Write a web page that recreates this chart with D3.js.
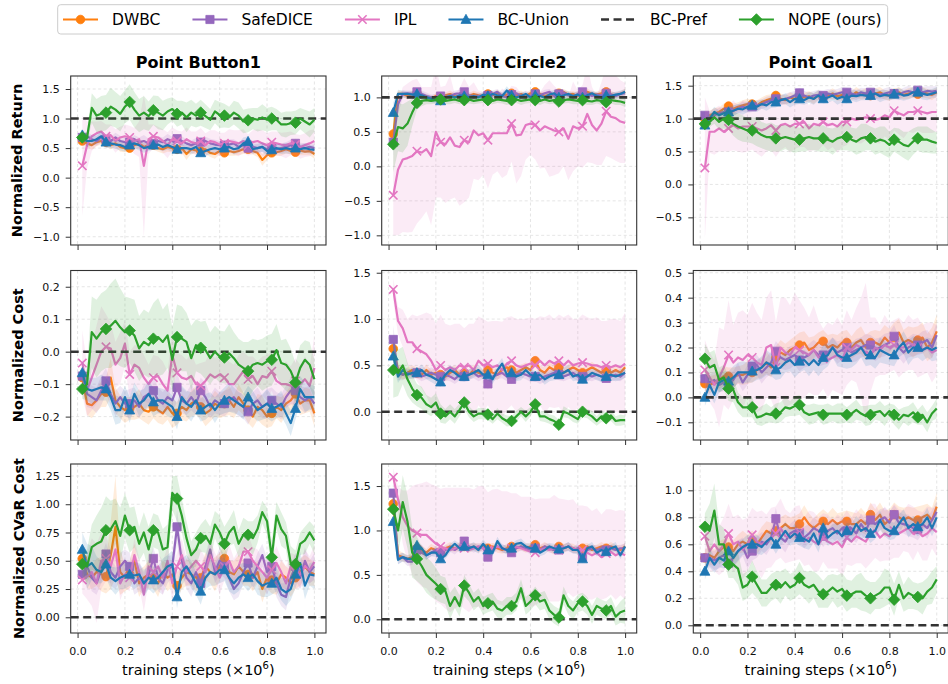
<!DOCTYPE html>
<html>
<head>
<meta charset="utf-8">
<title>NOPE training curves</title>
<script src="https://d3js.org/d3.v7.min.js"></script>
<style>
  body { margin: 0; background: #fff; }
  svg { display: block; font-family: "DejaVu Sans", sans-serif; }
</style>
</head>
<body>
<svg id="chart" width="948" height="684"></svg>
<script>

// ---- categories / labels ----
var steps = [0.02,0.04,0.06,0.08,0.10,0.12,0.14,0.16,0.18,0.20,
             0.22,0.24,0.26,0.28,0.30,0.32,0.34,0.36,0.38,0.40,
             0.42,0.44,0.46,0.48,0.50,0.52,0.54,0.56,0.58,0.60,
             0.62,0.64,0.66,0.68,0.70,0.72,0.74,0.76,0.78,0.80,
             0.82,0.84,0.86,0.88,0.90,0.92,0.94,0.96,0.98,1.00];
var methods = ["DWBC", "SafeDICE", "IPL", "BC-Union", "BC-Pref", "NOPE (ours)"];
var methodColors = ["#ff7f0e", "#9467bd", "#e377c2", "#1f77b4", "#333333", "#2ca02c"];
var methodMarkers = ["circle", "square", "x", "triangle", null, "diamond"];
var envTitles = ["Point Button1", "Point Circle2", "Point Goal1"];
var metricLabels = ["Normalized Return", "Normalized Cost", "Normalized CVaR Cost"];
var prefLevels = [1, 0, 0];   // BC-Pref reference per metric row
var xTickValues = [0, 0.2, 0.4, 0.6, 0.8, 1.0];
var yLimits = [[-1.14, 1.72], [-1.14, 1.31], [-0.92, 1.647],
               [-0.272, 0.25], [-0.305, 1.524], [-0.171, 0.509],
               [-0.139, 1.356], [-0.154, 1.748], [-0.057, 1.195]];
var yTickValues = [[-1, -0.5, 0, 0.5, 1, 1.5], [-1, -0.5, 0, 0.5, 1], [-0.5, 0, 0.5, 1, 1.5],
                   [-0.2, -0.1, 0, 0.1, 0.2], [0, 0.5, 1, 1.5], [-0.1, 0, 0.1, 0.2, 0.3, 0.4, 0.5],
                   [0, 0.25, 0.5, 0.75, 1, 1.25], [0, 0.5, 1, 1.5], [0, 0.2, 0.4, 0.6, 0.8, 1]];
var yTickFormats = [".1f", ".1f", ".1f", ".1f", ".1f", ".1f", ".2f", ".1f", ".1f"];

// ---- Point Button1 : return ----
var btnRet_dwbc = [0.62,0.58,0.55,0.60,0.62,0.60,0.55,0.58,0.52,0.50, 0.50,0.55,0.58,0.52,0.55,0.55,0.50,0.48,0.52,0.50, 0.48,0.50,0.40,0.48,0.46,0.45,0.48,0.42,0.40,0.45, 0.42,0.45,0.43,0.45,0.48,0.48,0.45,0.42,0.30,0.38, 0.42,0.43,0.45,0.48,0.45,0.43,0.46,0.44,0.45,0.40];
var btnRet_safe = [0.68,0.70,0.65,0.62,0.68,0.65,0.62,0.68,0.62,0.60, 0.60,0.65,0.60,0.62,0.58,0.58,0.62,0.60,0.65,0.62, 0.66,0.62,0.58,0.55,0.58,0.60,0.62,0.58,0.56,0.55, 0.55,0.56,0.58,0.52,0.55,0.50,0.52,0.50,0.52,0.48, 0.50,0.48,0.50,0.52,0.55,0.58,0.52,0.50,0.52,0.50];
var btnRet_ipl = [0.20,0.55,0.70,0.75,0.78,0.70,0.72,0.62,0.68,0.70, 0.68,0.62,0.65,0.20,0.65,0.70,0.68,0.62,0.55,0.65, 0.62,0.58,0.65,0.60,0.58,0.62,0.55,0.62,0.60,0.56, 0.58,0.62,0.60,0.58,0.62,0.55,0.60,0.62,0.58,0.55, 0.60,0.58,0.56,0.55,0.58,0.56,0.52,0.55,0.58,0.62];
var btnRet_bcu = [0.72,0.62,0.62,0.65,0.70,0.60,0.58,0.56,0.55,0.52, 0.55,0.58,0.55,0.50,0.52,0.55,0.56,0.52,0.55,0.52, 0.48,0.50,0.50,0.48,0.52,0.42,0.45,0.48,0.50,0.48, 0.50,0.52,0.48,0.50,0.58,0.61,0.48,0.50,0.52,0.45, 0.47,0.50,0.48,0.50,0.48,0.50,0.48,0.50,0.48,0.47];
var btnRet_nope = [0.68,0.68,1.18,1.05,1.08,1.10,1.20,1.15,1.08,1.20, 1.28,1.15,1.05,1.10,1.04,1.14,1.10,1.05,1.12,1.16, 1.08,1.10,1.02,1.10,1.05,1.10,1.04,0.98,1.12,1.06, 1.05,1.02,1.10,1.05,0.95,0.97,1.00,0.98,1.02,0.98, 1.00,0.98,0.90,0.90,0.92,0.93,1.00,0.95,0.90,0.98];
var btnRet_dwbc_sd = [0.05,0.06,0.08,0.07,0.06,0.08,0.07,0.06,0.08,0.07, 0.06,0.07,0.08,0.06,0.07,0.08,0.06,0.07,0.08,0.07, 0.06,0.08,0.10,0.07,0.06,0.07,0.08,0.07,0.08,0.06, 0.07,0.08,0.06,0.07,0.08,0.07,0.06,0.07,0.10,0.08, 0.07,0.06,0.08,0.07,0.06,0.07,0.08,0.06,0.07,0.08];
var btnRet_safe_sd = [0.06,0.08,0.07,0.08,0.10,0.08,0.07,0.08,0.09,0.08, 0.08,0.07,0.08,0.10,0.08,0.07,0.08,0.08,0.09,0.07, 0.08,0.08,0.07,0.08,0.09,0.08,0.07,0.08,0.08,0.07, 0.08,0.09,0.07,0.08,0.08,0.07,0.08,0.09,0.08,0.07, 0.08,0.07,0.08,0.08,0.09,0.08,0.07,0.08,0.08,0.07];
var btnRet_ipl_sd = [0.85,0.40,0.25,0.20,0.18,0.20,0.18,0.20,0.18,0.20, 0.20,0.22,0.30,1.20,0.25,0.20,0.18,0.20,0.22,0.20, 0.18,0.20,0.20,0.18,0.20,0.22,0.20,0.18,0.20,0.20, 0.18,0.20,0.20,0.22,0.20,0.18,0.20,0.20,0.22,0.20, 0.18,0.20,0.20,0.22,0.20,0.18,0.20,0.20,0.22,0.20];
var btnRet_bcu_sd = [0.08,0.10,0.09,0.08,0.08,0.10,0.08,0.07,0.09,0.08, 0.07,0.08,0.09,0.08,0.07,0.08,0.09,0.07,0.08,0.08, 0.09,0.07,0.08,0.09,0.08,0.07,0.08,0.09,0.08,0.07, 0.08,0.07,0.09,0.08,0.10,0.09,0.08,0.07,0.08,0.09, 0.08,0.07,0.08,0.09,0.08,0.07,0.08,0.08,0.07,0.08];
var btnRet_nope_sd = [0.05,0.10,0.25,0.28,0.30,0.30,0.32,0.30,0.30,0.28, 0.30,0.30,0.28,0.28,0.25,0.25,0.28,0.25,0.22,0.20, 0.22,0.20,0.25,0.22,0.20,0.22,0.20,0.18,0.20,0.22, 0.20,0.18,0.20,0.22,0.20,0.20,0.18,0.20,0.22,0.20, 0.20,0.18,0.20,0.22,0.20,0.20,0.18,0.20,0.22,0.20];

// ---- Point Circle2 : return ----
var cirRet_dwbc = [0.47,1.05,1.05,1.02,1.05,1.06,1.02,1.00,0.98,1.02, 1.00,1.03,1.05,1.02,1.00,1.03,1.02,1.05,1.03,1.02, 1.05,1.03,1.06,1.02,1.04,1.06,1.03,1.05,1.02,1.06, 1.08,1.05,1.02,1.04,1.03,1.06,1.08,1.04,1.05,1.02, 1.06,1.08,1.05,1.04,1.06,1.08,1.04,1.03,1.05,1.08];
var cirRet_safe = [0.35,0.90,1.05,1.06,1.05,1.08,1.05,1.02,1.00,1.00, 1.02,1.00,1.02,1.05,1.06,1.08,1.03,1.00,1.02,1.00, 1.03,1.05,1.08,1.02,1.00,1.04,1.06,1.02,1.00,1.02, 1.05,1.03,1.06,1.08,1.02,1.05,1.07,1.03,1.00,1.05, 1.08,1.05,1.02,1.04,1.03,1.06,1.04,1.02,1.05,1.06];
var cirRet_ipl = [-0.42,-0.05,0.10,0.12,0.15,0.22,0.20,0.25,0.15,0.50, 0.35,0.32,0.42,0.30,0.28,0.38,0.35,0.52,0.45,0.48, 0.38,0.48,0.48,0.48,0.48,0.62,0.45,0.46,0.60,0.62, 0.60,0.52,0.58,0.55,0.52,0.50,0.55,0.40,0.58,0.55, 0.58,0.76,0.60,0.52,0.62,0.80,0.72,0.70,0.65,0.63];
var cirRet_bcu = [0.78,1.05,1.05,1.05,1.04,1.05,1.03,1.00,0.98,0.96, 0.95,1.00,1.02,1.00,1.03,1.02,1.00,1.02,1.00,1.04, 1.02,1.05,1.03,1.02,1.10,1.03,1.00,1.02,1.05,1.00, 1.03,1.02,1.00,1.04,1.06,1.00,1.03,1.05,1.02,1.04, 1.00,1.03,1.06,1.02,1.00,1.03,1.02,1.04,1.05,1.08];
var cirRet_nope = [0.32,0.57,0.55,0.62,0.78,0.92,0.95,0.96,0.95,0.96, 0.97,0.95,0.96,0.97,0.95,0.96,0.97,0.95,0.96,0.97, 0.96,0.95,0.97,0.96,0.95,0.96,0.97,0.95,0.96,0.97, 0.96,0.95,0.97,0.95,0.96,0.94,0.96,0.97,0.96,0.95, 0.96,0.95,0.94,0.96,0.95,0.93,0.96,0.95,0.94,0.92];
var cirRet_dwbc_sd = [0.15,0.05,0.04,0.05,0.04,0.05,0.04,0.05,0.04,0.04, 0.05,0.04,0.05,0.04,0.04,0.05,0.04,0.05,0.04,0.04, 0.05,0.04,0.05,0.04,0.05,0.04,0.04,0.05,0.04,0.05, 0.05,0.04,0.05,0.04,0.04,0.05,0.04,0.05,0.04,0.05, 0.04,0.05,0.04,0.04,0.05,0.04,0.05,0.04,0.04,0.05];
var cirRet_safe_sd = [0.20,0.15,0.05,0.04,0.05,0.04,0.05,0.05,0.04,0.05, 0.04,0.05,0.04,0.05,0.05,0.04,0.05,0.04,0.05,0.04, 0.05,0.05,0.04,0.05,0.04,0.05,0.04,0.05,0.05,0.04, 0.05,0.04,0.05,0.04,0.05,0.05,0.04,0.05,0.04,0.05, 0.05,0.04,0.05,0.04,0.05,0.04,0.05,0.05,0.04,0.05];
var cirRet_ipl_sd = [0.58,0.95,1.05,1.08,1.10,1.05,0.95,0.90,1.00,0.95, 0.80,0.85,0.90,0.75,0.85,0.90,0.80,0.70,0.65,0.60, 0.70,0.60,0.55,0.65,0.60,0.55,0.70,0.60,0.50,0.45, 0.50,0.55,0.60,0.70,0.65,0.60,0.55,0.60,0.65,0.55, 0.60,0.70,0.55,0.50,0.60,0.65,0.60,0.62,0.60,0.58];
var cirRet_bcu_sd = [0.15,0.06,0.05,0.04,0.05,0.04,0.05,0.04,0.05,0.05, 0.04,0.05,0.04,0.05,0.04,0.05,0.05,0.04,0.05,0.04, 0.05,0.04,0.05,0.05,0.06,0.05,0.04,0.05,0.04,0.05, 0.04,0.05,0.05,0.04,0.05,0.04,0.05,0.04,0.05,0.05, 0.04,0.05,0.04,0.05,0.04,0.05,0.05,0.04,0.05,0.04];
var cirRet_nope_sd = [0.40,0.35,0.35,0.32,0.20,0.10,0.08,0.06,0.05,0.05, 0.05,0.05,0.06,0.05,0.05,0.05,0.06,0.05,0.05,0.05, 0.06,0.05,0.05,0.05,0.06,0.05,0.05,0.06,0.05,0.05, 0.05,0.06,0.05,0.05,0.05,0.06,0.05,0.05,0.06,0.05, 0.05,0.06,0.05,0.05,0.06,0.05,0.05,0.06,0.05,0.06];

// ---- Point Goal1 : return ----
var goalRet_dwbc = [1.00,1.05,1.08,1.10,1.15,1.19,1.15,1.18,1.20,1.22, 1.22,1.20,1.25,1.28,1.30,1.35,1.30,1.28,1.32,1.30, 1.35,1.32,1.34,1.30,1.36,1.33,1.35,1.38,1.34,1.36, 1.38,1.35,1.40,1.36,1.38,1.35,1.38,1.40,1.36,1.35, 1.38,1.40,1.36,1.38,1.40,1.37,1.40,1.38,1.36,1.40];
var goalRet_safe = [1.05,1.00,1.05,1.08,1.10,1.10,1.12,1.15,1.18,1.16, 1.18,1.20,1.22,1.25,1.28,1.30,1.28,1.30,1.32,1.35, 1.39,1.35,1.32,1.35,1.36,1.35,1.38,1.36,1.38,1.40, 1.40,1.38,1.36,1.40,1.38,1.40,1.38,1.36,1.38,1.40, 1.38,1.36,1.40,1.42,1.40,1.43,1.40,1.42,1.41,1.42];
var goalRet_ipl = [0.25,0.80,0.80,0.85,0.80,0.85,0.90,0.85,0.88,0.88, 0.88,0.85,0.82,0.85,0.90,0.82,0.90,0.92,0.88,0.92, 0.92,0.95,0.85,0.92,0.90,0.95,0.90,0.92,0.88,0.95, 0.95,1.00,0.98,1.00,1.02,1.00,0.98,1.00,1.05,1.02, 1.12,1.08,1.05,1.10,1.10,1.12,1.10,1.08,1.10,1.10];
var goalRet_bcu = [0.90,1.00,1.10,1.05,1.08,1.10,1.12,1.15,1.14,1.18, 1.20,1.18,1.22,1.20,1.25,1.25,1.28,1.30,1.25,1.30, 1.30,1.28,1.32,1.30,1.35,1.30,1.32,1.35,1.30,1.33, 1.30,1.35,1.34,1.36,1.35,1.35,1.38,1.34,1.36,1.35, 1.37,1.38,1.35,1.36,1.40,1.40,1.38,1.36,1.38,1.40];
var goalRet_nope = [0.92,0.95,1.02,0.95,1.00,0.98,0.92,0.88,0.85,0.82, 0.82,0.80,0.75,0.72,0.72,0.70,0.70,0.72,0.70,0.68, 0.68,0.70,0.72,0.70,0.70,0.70,0.68,0.65,0.70,0.72, 0.72,0.68,0.65,0.70,0.72,0.70,0.65,0.68,0.66,0.60, 0.68,0.65,0.60,0.58,0.65,0.70,0.68,0.68,0.65,0.63];
var goalRet_dwbc_sd = [0.06,0.07,0.08,0.07,0.08,0.07,0.08,0.07,0.08,0.08, 0.07,0.08,0.07,0.08,0.07,0.08,0.08,0.07,0.08,0.07, 0.08,0.07,0.08,0.08,0.07,0.08,0.07,0.08,0.07,0.08, 0.08,0.07,0.08,0.07,0.08,0.07,0.08,0.08,0.07,0.08, 0.07,0.08,0.07,0.08,0.08,0.07,0.08,0.07,0.08,0.07];
var goalRet_safe_sd = [0.07,0.08,0.07,0.08,0.08,0.07,0.08,0.07,0.08,0.07, 0.08,0.08,0.07,0.08,0.07,0.08,0.07,0.08,0.08,0.07, 0.08,0.07,0.08,0.07,0.08,0.08,0.07,0.08,0.07,0.08, 0.07,0.08,0.08,0.07,0.08,0.07,0.08,0.07,0.08,0.08, 0.07,0.08,0.07,0.08,0.07,0.08,0.08,0.07,0.08,0.07];
var goalRet_ipl_sd = [1.07,0.32,0.35,0.35,0.30,0.35,0.38,0.35,0.40,0.38, 0.35,0.38,0.40,0.35,0.38,0.40,0.38,0.35,0.40,0.38, 0.35,0.38,0.35,0.40,0.38,0.35,0.38,0.35,0.40,0.38, 0.35,0.32,0.35,0.38,0.35,0.32,0.35,0.38,0.32,0.35, 0.30,0.32,0.35,0.30,0.32,0.30,0.32,0.30,0.32,0.30];
var goalRet_bcu_sd = [0.08,0.09,0.08,0.07,0.08,0.09,0.08,0.07,0.08,0.08, 0.09,0.08,0.07,0.08,0.09,0.08,0.07,0.08,0.08,0.09, 0.08,0.07,0.08,0.09,0.08,0.07,0.08,0.08,0.09,0.08, 0.07,0.08,0.09,0.08,0.07,0.08,0.08,0.09,0.08,0.07, 0.08,0.09,0.08,0.07,0.08,0.08,0.09,0.08,0.07,0.08];
var goalRet_nope_sd = [0.05,0.08,0.10,0.12,0.15,0.15,0.18,0.20,0.20,0.18, 0.20,0.22,0.20,0.20,0.22,0.20,0.20,0.18,0.20,0.20, 0.18,0.20,0.20,0.18,0.20,0.20,0.18,0.20,0.18,0.20, 0.20,0.18,0.20,0.22,0.20,0.18,0.20,0.20,0.22,0.20, 0.18,0.20,0.20,0.22,0.20,0.18,0.20,0.20,0.18,0.16];

// ---- Point Button1 : cost ----
var btnCost_dwbc = [-0.080,-0.160,-0.165,-0.150,-0.130,-0.125,-0.080,-0.150,-0.170,-0.180, -0.175,-0.170,-0.160,-0.180,-0.185,-0.170,-0.180,-0.190,-0.170,-0.190, -0.190,-0.170,-0.180,-0.160,-0.150,-0.170,-0.190,-0.180,-0.160,-0.170, -0.160,-0.150,-0.170,-0.140,-0.160,-0.180,-0.200,-0.170,-0.180,-0.200, -0.190,-0.170,-0.180,-0.160,-0.150,-0.130,-0.160,-0.150,-0.150,-0.190];
var btnCost_safe = [-0.075,-0.130,-0.140,-0.150,-0.120,-0.090,-0.130,-0.160,-0.140,-0.160, -0.160,-0.150,-0.170,-0.140,-0.130,-0.120,-0.150,-0.160,-0.140,-0.150, -0.110,-0.150,-0.160,-0.140,-0.160,-0.120,-0.140,-0.170,-0.150,-0.160, -0.160,-0.150,-0.140,-0.160,-0.170,-0.185,-0.160,-0.150,-0.170,-0.160, -0.150,-0.160,-0.170,-0.140,-0.120,-0.120,-0.140,-0.150,-0.140,-0.160];
var btnCost_ipl = [-0.035,-0.120,-0.080,-0.040,0.000,0.015,0.010,-0.040,-0.020,0.025, -0.070,-0.040,-0.050,-0.080,-0.100,-0.080,-0.075,-0.100,-0.120,-0.010, -0.065,-0.080,-0.085,-0.075,-0.100,-0.105,-0.090,-0.070,-0.080,-0.070, -0.080,-0.100,-0.100,-0.080,-0.060,-0.085,-0.075,-0.100,-0.075,-0.080, -0.060,-0.090,-0.100,-0.100,-0.105,-0.090,-0.100,-0.085,-0.105,-0.050];
var btnCost_bcu = [-0.065,-0.115,-0.120,-0.115,-0.110,-0.115,-0.140,-0.180,-0.180,-0.140, -0.180,-0.130,-0.160,-0.150,-0.130,-0.155,-0.150,-0.150,-0.160,-0.170, -0.200,-0.140,-0.160,-0.170,-0.150,-0.180,-0.170,-0.160,-0.180,-0.160, -0.150,-0.140,-0.150,-0.160,-0.170,-0.140,-0.160,-0.180,-0.170,-0.160, -0.175,-0.170,-0.160,-0.190,-0.220,-0.175,-0.115,-0.140,-0.140,-0.140];
var btnCost_nope = [-0.115,-0.100,0.060,0.040,0.060,0.070,0.080,0.095,0.075,0.060, 0.065,0.050,0.010,0.030,0.020,0.040,0.045,0.030,0.050,-0.025, 0.045,0.040,0.030,-0.020,0.020,0.012,0.005,-0.020,0.000,-0.015, -0.018,-0.005,-0.020,-0.040,-0.050,-0.060,-0.040,-0.035,-0.040,-0.030, -0.025,0.005,-0.035,-0.040,-0.060,-0.095,-0.050,-0.025,-0.040,-0.085];
var btnCost_dwbc_sd = [0.030,0.035,0.040,0.035,0.040,0.045,0.060,0.040,0.035,0.040, 0.035,0.040,0.045,0.035,0.040,0.035,0.040,0.035,0.040,0.045, 0.035,0.040,0.035,0.040,0.045,0.035,0.040,0.035,0.040,0.035, 0.040,0.045,0.035,0.040,0.035,0.040,0.035,0.040,0.045,0.035, 0.040,0.035,0.040,0.035,0.045,0.040,0.035,0.040,0.035,0.040];
var btnCost_safe_sd = [0.040,0.040,0.035,0.040,0.045,0.040,0.035,0.040,0.035,0.040, 0.045,0.040,0.035,0.040,0.035,0.045,0.040,0.035,0.040,0.035, 0.045,0.040,0.035,0.040,0.035,0.040,0.045,0.035,0.040,0.035, 0.040,0.035,0.045,0.040,0.035,0.040,0.035,0.040,0.035,0.045, 0.040,0.035,0.040,0.035,0.040,0.045,0.035,0.040,0.035,0.040];
var btnCost_ipl_sd = [0.10,0.08,0.10,0.12,0.14,0.10,0.08,0.07,0.08,0.07, 0.07,0.06,0.07,0.07,0.06,0.07,0.06,0.07,0.06,0.07, 0.06,0.07,0.06,0.07,0.06,0.07,0.06,0.07,0.06,0.07, 0.06,0.07,0.06,0.07,0.06,0.07,0.06,0.07,0.06,0.07, 0.06,0.07,0.06,0.07,0.06,0.07,0.06,0.07,0.06,0.10];
var btnCost_bcu_sd = [0.040,0.035,0.040,0.035,0.040,0.035,0.040,0.045,0.040,0.035, 0.040,0.035,0.040,0.035,0.040,0.045,0.040,0.035,0.040,0.035, 0.040,0.035,0.040,0.045,0.040,0.035,0.040,0.035,0.040,0.035, 0.040,0.045,0.040,0.035,0.040,0.035,0.040,0.035,0.040,0.045, 0.040,0.035,0.040,0.035,0.040,0.035,0.040,0.045,0.040,0.035];
var btnCost_nope_sd = [0.03,0.05,0.11,0.12,0.12,0.12,0.13,0.13,0.12,0.11, 0.10,0.11,0.10,0.10,0.10,0.11,0.12,0.10,0.10,0.10, 0.10,0.10,0.09,0.10,0.08,0.08,0.09,0.08,0.08,0.08, 0.08,0.09,0.08,0.08,0.08,0.09,0.08,0.07,0.08,0.08, 0.08,0.08,0.07,0.08,0.07,0.06,0.07,0.06,0.07,0.06];

// ---- Point Circle2 : cost ----
var cirCost_dwbc = [0.68,0.45,0.40,0.42,0.45,0.42,0.40,0.45,0.40,0.42, 0.40,0.38,0.42,0.45,0.40,0.42,0.40,0.45,0.42,0.40, 0.45,0.42,0.40,0.45,0.48,0.45,0.42,0.45,0.48,0.45, 0.55,0.45,0.42,0.48,0.45,0.48,0.42,0.45,0.48,0.45, 0.42,0.45,0.48,0.45,0.42,0.45,0.42,0.45,0.42,0.48];
var cirCost_safe = [0.78,0.42,0.40,0.42,0.40,0.42,0.38,0.40,0.42,0.40, 0.38,0.40,0.38,0.35,0.40,0.38,0.40,0.42,0.38,0.40, 0.30,0.38,0.40,0.42,0.38,0.35,0.40,0.42,0.40,0.38, 0.38,0.35,0.38,0.40,0.42,0.40,0.38,0.40,0.42,0.38, 0.38,0.40,0.38,0.40,0.38,0.36,0.38,0.40,0.38,0.42];
var cirCost_ipl = [1.32,0.98,0.90,0.75,0.75,0.68,0.65,0.62,0.55,0.45, 0.50,0.45,0.48,0.45,0.50,0.48,0.50,0.45,0.55,0.50, 0.52,0.48,0.50,0.45,0.52,0.55,0.50,0.48,0.50,0.52, 0.50,0.55,0.50,0.55,0.52,0.55,0.50,0.55,0.50,0.52, 0.53,0.52,0.50,0.50,0.48,0.50,0.48,0.50,0.48,0.52];
var cirCost_bcu = [0.60,0.38,0.45,0.40,0.42,0.42,0.45,0.40,0.38,0.35, 0.32,0.40,0.45,0.42,0.38,0.38,0.40,0.42,0.45,0.40, 0.40,0.35,0.45,0.52,0.40,0.42,0.38,0.40,0.45,0.40, 0.38,0.40,0.35,0.38,0.40,0.40,0.42,0.45,0.38,0.40, 0.35,0.38,0.42,0.40,0.38,0.38,0.40,0.38,0.40,0.42];
var cirCost_nope = [0.45,0.42,0.50,0.35,0.25,0.18,0.15,0.08,0.05,0.10, -0.02,-0.05,0.00,-0.05,0.02,0.10,0.00,-0.05,-0.02,-0.02, -0.03,-0.08,-0.02,-0.07,-0.10,-0.10,-0.05,0.00,-0.05,0.00, 0.08,-0.05,-0.05,-0.08,-0.10,-0.14,0.00,-0.02,-0.05,-0.08, 0.00,-0.02,-0.05,-0.10,-0.05,-0.07,-0.04,-0.10,-0.09,-0.09];
var cirCost_dwbc_sd = [0.15,0.08,0.05,0.06,0.05,0.06,0.05,0.06,0.05,0.05, 0.06,0.05,0.06,0.05,0.05,0.06,0.05,0.06,0.05,0.05, 0.06,0.05,0.06,0.05,0.05,0.06,0.05,0.06,0.05,0.05, 0.06,0.05,0.06,0.05,0.05,0.06,0.05,0.06,0.05,0.05, 0.06,0.05,0.06,0.05,0.05,0.06,0.05,0.06,0.05,0.05];
var cirCost_safe_sd = [0.15,0.08,0.06,0.05,0.05,0.06,0.05,0.05,0.06,0.05, 0.05,0.06,0.05,0.05,0.06,0.05,0.05,0.06,0.05,0.05, 0.06,0.05,0.05,0.06,0.05,0.05,0.06,0.05,0.05,0.06, 0.05,0.05,0.06,0.05,0.05,0.06,0.05,0.05,0.06,0.05, 0.05,0.06,0.05,0.05,0.06,0.05,0.05,0.06,0.05,0.05];
var cirCost_ipl_sd = [0.12,0.15,0.20,0.25,0.30,0.35,0.40,0.45,0.50,0.50, 0.55,0.50,0.45,0.50,0.45,0.42,0.45,0.50,0.48,0.50, 0.45,0.50,0.48,0.52,0.50,0.48,0.50,0.52,0.50,0.50, 0.50,0.48,0.52,0.50,0.48,0.50,0.52,0.50,0.50,0.48, 0.52,0.50,0.50,0.52,0.50,0.48,0.52,0.50,0.50,0.55];
var cirCost_bcu_sd = [0.12,0.07,0.06,0.05,0.06,0.05,0.06,0.05,0.06,0.06, 0.05,0.06,0.05,0.06,0.05,0.06,0.06,0.05,0.06,0.05, 0.06,0.05,0.06,0.06,0.05,0.06,0.05,0.06,0.05,0.06, 0.06,0.05,0.06,0.05,0.06,0.05,0.06,0.06,0.05,0.06, 0.05,0.06,0.05,0.06,0.06,0.05,0.06,0.05,0.06,0.05];
var cirCost_nope_sd = [0.30,0.25,0.20,0.18,0.15,0.12,0.12,0.10,0.10,0.10, 0.10,0.08,0.08,0.08,0.07,0.07,0.06,0.06,0.06,0.06, 0.06,0.05,0.06,0.05,0.06,0.05,0.06,0.05,0.06,0.05, 0.06,0.05,0.06,0.05,0.06,0.05,0.06,0.05,0.06,0.05, 0.06,0.05,0.06,0.05,0.06,0.05,0.06,0.05,0.06,0.05];

// ---- Point Goal1 : cost ----
var goalCost_dwbc = [0.055,0.050,0.060,0.070,0.085,0.085,0.080,0.090,0.090,0.100, 0.100,0.110,0.120,0.140,0.120,0.160,0.180,0.170,0.190,0.200, 0.210,0.220,0.190,0.200,0.220,0.225,0.200,0.210,0.200,0.220, 0.220,0.200,0.220,0.230,0.200,0.220,0.220,0.210,0.240,0.220, 0.240,0.260,0.220,0.230,0.220,0.230,0.240,0.200,0.220,0.265];
var goalCost_safe = [0.075,0.060,0.070,0.050,0.060,0.060,0.070,0.100,0.060,0.090, 0.125,0.130,0.100,0.120,0.140,0.185,0.160,0.150,0.160,0.170, 0.150,0.160,0.170,0.190,0.170,0.170,0.180,0.200,0.180,0.190, 0.200,0.180,0.190,0.200,0.210,0.210,0.190,0.200,0.210,0.220, 0.245,0.200,0.180,0.200,0.210,0.210,0.220,0.230,0.200,0.250];
var goalCost_ipl = [0.110,0.080,0.050,0.080,0.120,0.170,0.140,0.160,0.150,0.170, 0.160,0.140,0.130,0.200,0.210,0.120,0.200,0.180,0.170,0.200, 0.190,0.180,0.170,0.190,0.160,0.155,0.150,0.160,0.170,0.150, 0.200,0.190,0.210,0.200,0.180,0.170,0.200,0.190,0.210,0.200, 0.210,0.200,0.200,0.220,0.210,0.200,0.190,0.200,0.180,0.190];
var goalCost_bcu = [0.000,0.050,0.010,0.060,0.070,0.065,0.080,0.100,0.100,0.100, 0.105,0.110,0.120,0.140,0.130,0.110,0.120,0.140,0.150,0.130, 0.145,0.150,0.130,0.150,0.130,0.160,0.170,0.200,0.170,0.160, 0.160,0.170,0.180,0.200,0.170,0.170,0.160,0.190,0.180,0.170, 0.170,0.200,0.220,0.180,0.200,0.200,0.190,0.200,0.190,0.200];
var goalCost_nope = [0.155,0.120,0.130,0.070,0.080,0.035,0.030,-0.020,-0.040,-0.040, -0.040,-0.080,-0.075,-0.065,-0.070,-0.065,-0.060,-0.040,-0.045,-0.035, -0.030,-0.060,-0.070,-0.065,-0.060,-0.070,-0.065,-0.065,-0.065,-0.065, -0.070,-0.065,-0.050,-0.065,-0.075,-0.070,-0.060,-0.055,-0.075,-0.055, -0.070,-0.090,-0.070,-0.075,-0.060,-0.080,-0.070,-0.100,-0.065,-0.045];
var goalCost_dwbc_sd = [0.030,0.035,0.030,0.035,0.040,0.035,0.040,0.035,0.040,0.045, 0.040,0.035,0.040,0.045,0.040,0.045,0.050,0.045,0.040,0.045, 0.050,0.045,0.050,0.045,0.040,0.045,0.050,0.045,0.050,0.045, 0.050,0.045,0.050,0.055,0.050,0.045,0.050,0.055,0.050,0.055, 0.060,0.055,0.050,0.055,0.060,0.055,0.060,0.055,0.060,0.065];
var goalCost_safe_sd = [0.035,0.030,0.035,0.030,0.035,0.040,0.035,0.040,0.035,0.040, 0.045,0.040,0.045,0.040,0.045,0.040,0.045,0.040,0.045,0.040, 0.045,0.040,0.045,0.040,0.045,0.040,0.045,0.040,0.045,0.040, 0.045,0.040,0.045,0.040,0.045,0.040,0.045,0.040,0.045,0.040, 0.045,0.040,0.045,0.040,0.045,0.040,0.045,0.040,0.045,0.050];
var goalCost_ipl_sd = [0.12,0.10,0.10,0.20,0.15,0.22,0.15,0.18,0.20,0.16, 0.22,0.20,0.18,0.20,0.22,0.18,0.20,0.22,0.20,0.22, 0.20,0.18,0.15,0.18,0.15,0.12,0.15,0.13,0.15,0.14, 0.15,0.12,0.15,0.20,0.28,0.15,0.12,0.10,0.12,0.10, 0.10,0.12,0.10,0.11,0.10,0.12,0.10,0.10,0.12,0.10];
var goalCost_bcu_sd = [0.035,0.040,0.035,0.040,0.035,0.040,0.045,0.040,0.045,0.040, 0.045,0.040,0.045,0.050,0.045,0.040,0.045,0.040,0.045,0.050, 0.045,0.040,0.045,0.040,0.045,0.050,0.045,0.040,0.045,0.040, 0.045,0.050,0.045,0.040,0.045,0.040,0.045,0.050,0.045,0.040, 0.045,0.040,0.045,0.050,0.045,0.040,0.045,0.040,0.045,0.050];
var goalCost_nope_sd = [0.06,0.06,0.06,0.05,0.05,0.05,0.05,0.04,0.04,0.04, 0.04,0.03,0.04,0.04,0.03,0.04,0.04,0.04,0.03,0.04, 0.04,0.03,0.04,0.04,0.03,0.04,0.04,0.03,0.04,0.04, 0.03,0.04,0.04,0.03,0.04,0.04,0.03,0.04,0.04,0.03, 0.04,0.04,0.03,0.04,0.04,0.03,0.04,0.04,0.03,0.04];

// ---- Point Button1 : CVaR cost ----
var btnCvar_dwbc = [0.52,0.38,0.35,0.40,0.38,0.36,0.55,0.80,0.40,0.35, 0.38,0.50,0.30,0.35,0.38,0.35,0.30,0.40,0.35,0.38, 0.28,0.35,0.40,0.38,0.35,0.35,0.45,0.40,0.38,0.45, 0.52,0.40,0.38,0.45,0.40,0.38,0.35,0.40,0.25,0.35, 0.33,0.30,0.38,0.35,0.30,0.35,0.40,0.45,0.40,0.38];
var btnCvar_safe = [0.38,0.45,0.35,0.30,0.42,0.56,0.40,0.35,0.45,0.50, 0.45,0.30,0.35,0.30,0.38,0.52,0.35,0.30,0.42,0.45, 0.80,0.50,0.35,0.30,0.40,0.30,0.45,0.60,0.40,0.50, 0.45,0.35,0.25,0.30,0.40,0.48,0.35,0.45,0.55,0.40, 0.45,0.30,0.20,0.18,0.35,0.45,0.35,0.50,0.40,0.45];
var btnCvar_ipl = [0.33,0.36,0.40,0.30,0.50,0.52,0.45,0.60,0.30,0.38, 0.35,0.55,0.40,0.20,0.45,0.40,0.45,0.35,0.50,0.30, 0.45,0.55,0.40,0.45,0.50,0.45,0.40,0.55,0.45,0.35, 0.45,0.50,0.40,0.45,0.58,0.58,0.50,0.45,0.40,0.35, 0.42,0.48,0.40,0.30,0.45,0.40,0.38,0.45,0.42,0.49];
var btnCvar_bcu = [0.60,0.45,0.48,0.42,0.40,0.47,0.35,0.32,0.35,0.37, 0.38,0.37,0.38,0.30,0.35,0.33,0.35,0.40,0.45,0.47, 0.18,0.40,0.45,0.38,0.30,0.23,0.35,0.40,0.38,0.42, 0.42,0.35,0.30,0.35,0.38,0.35,0.38,0.32,0.28,0.30, 0.30,0.35,0.25,0.22,0.25,0.38,0.48,0.28,0.38,0.37];
var btnCvar_nope = [0.47,0.45,0.62,0.65,0.67,0.77,0.78,0.85,0.72,0.90, 0.77,0.80,0.65,0.75,0.60,0.77,0.75,0.60,0.62,1.10, 1.05,0.90,0.70,0.55,0.60,0.70,0.72,0.65,0.82,0.75, 0.65,0.75,0.80,0.65,0.73,0.73,0.70,0.78,0.93,0.85, 0.53,0.90,0.78,0.72,0.48,0.47,0.65,0.68,0.75,0.68];
var btnCvar_dwbc_sd = [0.10,0.12,0.10,0.12,0.15,0.15,0.30,0.45,0.20,0.12, 0.12,0.15,0.12,0.10,0.12,0.10,0.12,0.10,0.12,0.10, 0.12,0.10,0.12,0.10,0.12,0.10,0.12,0.10,0.15,0.12, 0.12,0.10,0.12,0.10,0.12,0.10,0.12,0.10,0.12,0.10, 0.12,0.10,0.12,0.10,0.12,0.10,0.12,0.10,0.12,0.10];
var btnCvar_safe_sd = [0.08,0.10,0.12,0.10,0.12,0.10,0.12,0.10,0.12,0.10, 0.12,0.10,0.12,0.10,0.12,0.10,0.12,0.10,0.12,0.10, 0.15,0.12,0.10,0.12,0.10,0.12,0.10,0.12,0.10,0.12, 0.10,0.12,0.10,0.12,0.10,0.12,0.10,0.12,0.10,0.12, 0.10,0.12,0.10,0.12,0.10,0.12,0.10,0.12,0.10,0.12];
var btnCvar_ipl_sd = [0.12,0.20,0.30,0.35,0.25,0.20,0.15,0.12,0.15,0.12, 0.12,0.15,0.12,0.15,0.12,0.15,0.12,0.15,0.12,0.15, 0.12,0.15,0.12,0.15,0.12,0.15,0.12,0.15,0.12,0.15, 0.12,0.15,0.12,0.15,0.12,0.15,0.12,0.15,0.12,0.15, 0.12,0.15,0.12,0.15,0.12,0.15,0.12,0.15,0.12,0.15];
var btnCvar_bcu_sd = [0.15,0.20,0.15,0.12,0.10,0.12,0.10,0.12,0.10,0.12, 0.10,0.12,0.10,0.12,0.10,0.12,0.10,0.12,0.10,0.12, 0.10,0.12,0.10,0.12,0.10,0.12,0.10,0.12,0.10,0.12, 0.10,0.12,0.10,0.12,0.10,0.12,0.10,0.12,0.10,0.12, 0.10,0.12,0.10,0.12,0.10,0.12,0.10,0.12,0.10,0.12];
var btnCvar_nope_sd = [0.10,0.15,0.20,0.25,0.30,0.30,0.25,0.20,0.25,0.20, 0.20,0.18,0.15,0.18,0.20,0.15,0.15,0.18,0.20,0.15, 0.20,0.15,0.15,0.12,0.15,0.12,0.15,0.15,0.12,0.15, 0.15,0.12,0.15,0.12,0.15,0.12,0.15,0.12,0.10,0.12, 0.15,0.12,0.15,0.12,0.15,0.12,0.10,0.12,0.10,0.12];

// ---- Point Circle2 : CVaR cost ----
var cirCvar_dwbc = [1.30,0.72,0.70,0.68,0.70,0.80,0.78,0.75,0.80,0.78, 0.75,0.80,0.82,0.80,0.82,0.82,0.80,0.82,0.80,0.82, 0.80,0.82,0.80,0.78,0.80,0.82,0.80,0.82,0.80,0.82, 0.84,0.80,0.82,0.80,0.78,0.82,0.80,0.82,0.80,0.78, 0.80,0.82,0.78,0.80,0.82,0.80,0.82,0.80,0.78,0.82];
var cirCvar_safe = [1.42,0.68,0.70,0.65,0.65,0.78,0.75,0.72,0.75,0.78, 0.75,0.78,0.80,0.78,0.82,0.88,0.82,0.80,0.82,0.80, 0.70,0.78,0.82,0.80,0.78,0.75,0.80,0.82,0.80,0.78, 0.80,0.78,0.82,0.80,0.78,0.78,0.80,0.82,0.78,0.80, 0.70,0.78,0.80,0.78,0.80,0.78,0.80,0.78,0.80,0.80];
var cirCvar_ipl = [1.60,1.35,1.15,1.05,1.00,0.97,0.95,0.95,0.90,0.85, 0.82,0.80,0.78,0.80,0.82,0.80,0.78,0.80,0.82,0.80, 0.78,0.80,0.82,0.80,0.78,0.80,0.82,0.80,0.78,0.76, 0.75,0.78,0.80,0.78,0.80,0.78,0.80,0.82,0.80,0.78, 0.78,0.75,0.72,0.75,0.70,0.74,0.76,0.72,0.75,0.72];
var cirCvar_bcu = [1.10,0.67,0.70,0.68,0.68,0.83,0.80,0.72,0.75,0.75, 0.68,0.72,0.80,0.85,0.80,0.82,0.80,0.82,0.78,0.85, 0.78,0.75,0.88,0.80,0.78,0.80,0.85,0.86,0.82,0.80, 0.80,0.75,0.78,0.82,0.80,0.79,0.80,0.82,0.78,0.78, 0.68,0.80,0.82,0.75,0.78,0.76,0.80,0.82,0.72,0.82];
var cirCvar_nope = [1.24,1.00,1.32,1.10,0.75,0.68,0.60,0.50,0.45,0.40, 0.34,0.32,0.15,0.25,0.15,0.38,0.30,0.20,0.25,0.15, 0.18,0.20,0.12,0.10,0.15,0.15,0.20,0.35,0.15,0.20, 0.27,0.20,0.22,0.10,0.05,0.02,0.27,0.15,0.10,0.18, 0.20,0.15,0.05,0.15,0.12,0.10,0.15,0.03,0.08,0.10];
var cirCvar_dwbc_sd = [0.10,0.06,0.05,0.04,0.05,0.04,0.05,0.04,0.05,0.04, 0.05,0.04,0.05,0.04,0.05,0.04,0.05,0.04,0.05,0.04, 0.05,0.04,0.05,0.04,0.05,0.04,0.05,0.04,0.05,0.04, 0.05,0.04,0.05,0.04,0.05,0.04,0.05,0.04,0.05,0.04, 0.05,0.04,0.05,0.04,0.05,0.04,0.05,0.04,0.05,0.04];
var cirCvar_safe_sd = [0.12,0.06,0.05,0.05,0.04,0.05,0.04,0.05,0.04,0.05, 0.04,0.05,0.04,0.05,0.04,0.05,0.04,0.05,0.04,0.05, 0.06,0.05,0.04,0.05,0.04,0.05,0.04,0.05,0.04,0.05, 0.04,0.05,0.04,0.05,0.04,0.05,0.04,0.05,0.04,0.05, 0.06,0.05,0.04,0.05,0.04,0.05,0.04,0.05,0.04,0.05];
var cirCvar_ipl_sd = [0.10,0.15,0.30,0.40,0.50,0.55,0.58,0.60,0.62,0.65, 0.65,0.68,0.70,0.68,0.66,0.68,0.70,0.66,0.68,0.70, 0.65,0.66,0.65,0.64,0.66,0.62,0.60,0.58,0.60,0.62, 0.60,0.58,0.56,0.58,0.60,0.58,0.55,0.52,0.55,0.50, 0.50,0.52,0.50,0.50,0.48,0.50,0.48,0.50,0.48,0.50];
var cirCvar_bcu_sd = [0.10,0.05,0.05,0.04,0.05,0.05,0.04,0.05,0.04,0.05, 0.05,0.04,0.05,0.04,0.05,0.05,0.04,0.05,0.04,0.05, 0.05,0.04,0.05,0.04,0.05,0.05,0.04,0.05,0.04,0.05, 0.05,0.04,0.05,0.04,0.05,0.05,0.04,0.05,0.04,0.05, 0.05,0.04,0.05,0.04,0.05,0.05,0.04,0.05,0.04,0.05];
var cirCvar_nope_sd = [0.15,0.25,0.30,0.30,0.28,0.25,0.22,0.20,0.20,0.18, 0.15,0.15,0.15,0.12,0.12,0.12,0.10,0.10,0.10,0.10, 0.10,0.10,0.10,0.10,0.10,0.10,0.10,0.10,0.10,0.10, 0.10,0.10,0.10,0.10,0.10,0.10,0.10,0.10,0.10,0.10, 0.10,0.10,0.10,0.10,0.10,0.10,0.10,0.10,0.12,0.15];

// ---- Point Goal1 : CVaR cost ----
var goalCvar_dwbc = [0.50,0.52,0.50,0.55,0.58,0.58,0.55,0.60,0.62,0.60, 0.62,0.60,0.65,0.70,0.68,0.70,0.72,0.75,0.72,0.72, 0.75,0.80,0.75,0.72,0.75,0.77,0.75,0.78,0.75,0.77, 0.77,0.75,0.75,0.78,0.75,0.82,0.78,0.82,0.75,0.78, 0.82,0.80,0.78,0.80,0.78,0.78,0.80,0.82,0.78,0.88];
var goalCvar_safe = [0.50,0.50,0.48,0.50,0.52,0.46,0.50,0.55,0.58,0.50, 0.55,0.58,0.62,0.60,0.65,0.79,0.65,0.62,0.68,0.70, 0.68,0.65,0.68,0.72,0.70,0.66,0.70,0.72,0.68,0.72, 0.70,0.72,0.68,0.75,0.70,0.78,0.75,0.78,0.80,0.76, 0.82,0.76,0.75,0.74,0.72,0.71,0.75,0.72,0.78,0.84];
var goalCvar_ipl = [0.66,0.55,0.60,0.55,0.60,0.68,0.60,0.62,0.56,0.60, 0.67,0.62,0.60,0.62,0.65,0.68,0.72,0.66,0.65,0.68, 0.69,0.62,0.65,0.62,0.60,0.65,0.62,0.60,0.62,0.58, 0.65,0.62,0.66,0.64,0.62,0.68,0.70,0.65,0.68,0.66, 0.70,0.68,0.70,0.72,0.68,0.70,0.66,0.68,0.72,0.69];
var goalCvar_bcu = [0.40,0.50,0.45,0.50,0.48,0.55,0.50,0.55,0.58,0.60, 0.60,0.60,0.58,0.62,0.65,0.60,0.65,0.70,0.65,0.68, 0.65,0.64,0.62,0.68,0.60,0.72,0.65,0.68,0.70,0.66, 0.70,0.68,0.75,0.70,0.72,0.68,0.70,0.78,0.72,0.70, 0.70,0.75,0.80,0.72,0.75,0.73,0.75,0.80,0.72,0.80];
var goalCvar_nope = [0.73,0.70,0.85,0.60,0.60,0.45,0.45,0.42,0.28,0.30, 0.36,0.30,0.24,0.24,0.28,0.30,0.28,0.32,0.28,0.30, 0.35,0.30,0.28,0.30,0.25,0.23,0.25,0.28,0.25,0.27, 0.22,0.23,0.25,0.25,0.22,0.20,0.22,0.24,0.28,0.28, 0.19,0.30,0.20,0.24,0.22,0.21,0.20,0.25,0.28,0.34];
var goalCvar_dwbc_sd = [0.06,0.07,0.06,0.07,0.06,0.07,0.08,0.07,0.08,0.07, 0.08,0.07,0.08,0.07,0.08,0.09,0.08,0.07,0.08,0.09, 0.08,0.09,0.08,0.07,0.08,0.09,0.08,0.09,0.08,0.07, 0.08,0.09,0.08,0.09,0.08,0.09,0.08,0.09,0.10,0.08, 0.09,0.08,0.09,0.08,0.09,0.10,0.09,0.08,0.09,0.10];
var goalCvar_safe_sd = [0.07,0.06,0.07,0.08,0.07,0.06,0.07,0.08,0.07,0.08, 0.07,0.08,0.07,0.08,0.07,0.08,0.07,0.08,0.07,0.08, 0.07,0.08,0.07,0.08,0.07,0.08,0.07,0.08,0.07,0.08, 0.07,0.08,0.07,0.08,0.07,0.08,0.07,0.08,0.07,0.08, 0.07,0.08,0.07,0.08,0.07,0.08,0.07,0.08,0.07,0.08];
var goalCvar_ipl_sd = [0.15,0.15,0.20,0.18,0.20,0.22,0.20,0.20,0.22,0.20, 0.20,0.22,0.25,0.20,0.22,0.20,0.22,0.20,0.18,0.20, 0.20,0.18,0.20,0.22,0.20,0.18,0.20,0.18,0.20,0.22, 0.20,0.18,0.20,0.18,0.20,0.22,0.20,0.18,0.20,0.18, 0.20,0.18,0.15,0.18,0.20,0.15,0.18,0.20,0.15,0.18];
var goalCvar_bcu_sd = [0.06,0.07,0.06,0.07,0.06,0.07,0.06,0.07,0.06,0.07, 0.06,0.07,0.06,0.07,0.06,0.07,0.06,0.07,0.06,0.07, 0.06,0.07,0.06,0.07,0.06,0.07,0.06,0.07,0.06,0.07, 0.06,0.07,0.06,0.07,0.06,0.07,0.06,0.07,0.06,0.07, 0.06,0.07,0.06,0.07,0.06,0.07,0.06,0.07,0.06,0.07];
var goalCvar_nope_sd = [0.10,0.20,0.20,0.15,0.12,0.10,0.10,0.12,0.10,0.10, 0.12,0.10,0.10,0.10,0.10,0.10,0.12,0.10,0.10,0.10, 0.12,0.10,0.12,0.10,0.12,0.10,0.12,0.10,0.12,0.12, 0.12,0.10,0.12,0.14,0.12,0.12,0.10,0.12,0.14,0.12, 0.12,0.10,0.10,0.12,0.10,0.10,0.12,0.10,0.12,0.10];

// panels, row-major; series order = DWBC, SafeDICE, IPL, BC-Union, NOPE
var panels = [
  {mean: [btnRet_dwbc, btnRet_safe, btnRet_ipl, btnRet_bcu, btnRet_nope], sd: [btnRet_dwbc_sd, btnRet_safe_sd, btnRet_ipl_sd, btnRet_bcu_sd, btnRet_nope_sd]},
  {mean: [cirRet_dwbc, cirRet_safe, cirRet_ipl, cirRet_bcu, cirRet_nope], sd: [cirRet_dwbc_sd, cirRet_safe_sd, cirRet_ipl_sd, cirRet_bcu_sd, cirRet_nope_sd]},
  {mean: [goalRet_dwbc, goalRet_safe, goalRet_ipl, goalRet_bcu, goalRet_nope], sd: [goalRet_dwbc_sd, goalRet_safe_sd, goalRet_ipl_sd, goalRet_bcu_sd, goalRet_nope_sd]},
  {mean: [btnCost_dwbc, btnCost_safe, btnCost_ipl, btnCost_bcu, btnCost_nope], sd: [btnCost_dwbc_sd, btnCost_safe_sd, btnCost_ipl_sd, btnCost_bcu_sd, btnCost_nope_sd]},
  {mean: [cirCost_dwbc, cirCost_safe, cirCost_ipl, cirCost_bcu, cirCost_nope], sd: [cirCost_dwbc_sd, cirCost_safe_sd, cirCost_ipl_sd, cirCost_bcu_sd, cirCost_nope_sd]},
  {mean: [goalCost_dwbc, goalCost_safe, goalCost_ipl, goalCost_bcu, goalCost_nope], sd: [goalCost_dwbc_sd, goalCost_safe_sd, goalCost_ipl_sd, goalCost_bcu_sd, goalCost_nope_sd]},
  {mean: [btnCvar_dwbc, btnCvar_safe, btnCvar_ipl, btnCvar_bcu, btnCvar_nope], sd: [btnCvar_dwbc_sd, btnCvar_safe_sd, btnCvar_ipl_sd, btnCvar_bcu_sd, btnCvar_nope_sd]},
  {mean: [cirCvar_dwbc, cirCvar_safe, cirCvar_ipl, cirCvar_bcu, cirCvar_nope], sd: [cirCvar_dwbc_sd, cirCvar_safe_sd, cirCvar_ipl_sd, cirCvar_bcu_sd, cirCvar_nope_sd]},
  {mean: [goalCvar_dwbc, goalCvar_safe, goalCvar_ipl, goalCvar_bcu, goalCvar_nope], sd: [goalCvar_dwbc_sd, goalCvar_safe_sd, goalCvar_ipl_sd, goalCvar_bcu_sd, goalCvar_nope_sd]}
];
var seriesMethod = [0, 1, 2, 3, 5];   // index into methods for each panel series

// ---- layout ----
var colLeft = [70.7, 381.7, 693.3], colRight = [326, 636.7, 948.3];
var rowTop = [76, 270.5, 464], rowBottom = [245, 440, 633];
var xLimits = [-0.029, 1.049];
var markEvery = 5;
var prefDash = "8,4.5";

var svg = d3.select("#chart");
var defs = svg.append("defs");

function markerPath(type) {
  if (type == "circle") return "M4.3,0A4.3,4.3 0 1,1 -4.3,0A4.3,4.3 0 1,1 4.3,0Z";
  if (type == "square") return "M-4.1,-4.1H4.1V4.1H-4.1Z";
  if (type == "triangle") return "M0,-5.2L5,3.9L-5,3.9Z";
  if (type == "diamond") return "M0,-5.8L5.8,0L0,5.8L-5.8,0Z";
  if (type == "x") return "M-4.2,-4.2L4.2,4.2M-4.2,4.2L4.2,-4.2";
  return "";
}
function drawMarker(g, type, color, cx, cy) {
  var p = g.append("path").attr("d", markerPath(type))
    .attr("transform", "translate(" + cx + "," + cy + ")");
  if (type == "x") p.attr("fill", "none").attr("stroke", color).attr("stroke-width", 1.6);
  else p.attr("fill", color).attr("stroke", color).attr("stroke-width", 0.8);
}

panels.forEach(function(p, k) {
  var r = Math.floor(k / 3), c = k % 3;
  var x = d3.scaleLinear().domain(xLimits).range([colLeft[c], colRight[c]]);
  var y = d3.scaleLinear().domain(yLimits[k]).range([rowBottom[r], rowTop[r]]);
  var g = svg.append("g");

  defs.append("clipPath").attr("id", "clip" + k).append("rect")
    .attr("x", colLeft[c]).attr("y", rowTop[r])
    .attr("width", colRight[c] - colLeft[c]).attr("height", rowBottom[r] - rowTop[r]);

  // grid
  var grid = g.append("g").attr("stroke", "#dedede").attr("stroke-width", 0.8)
    .attr("stroke-dasharray", "3,2.5");
  xTickValues.forEach(function(t) {
    grid.append("line").attr("x1", x(t)).attr("x2", x(t)).attr("y1", rowTop[r]).attr("y2", rowBottom[r]);
  });
  yTickValues[k].forEach(function(t) {
    grid.append("line").attr("y1", y(t)).attr("y2", y(t)).attr("x1", colLeft[c]).attr("x2", colRight[c]);
  });

  var plot = g.append("g").attr("clip-path", "url(#clip" + k + ")");

  p.mean.forEach(function(mean, s) {
    var m = seriesMethod[s];
    var sd = p.sd[s];
    var color = methodColors[m];

    if (m == 5) {
      // BC-Pref reference line comes before NOPE
      plot.append("line")
        .attr("x1", colLeft[c]).attr("x2", colRight[c])
        .attr("y1", y(prefLevels[r])).attr("y2", y(prefLevels[r]))
        .attr("stroke", methodColors[4]).attr("stroke-width", 2.6)
        .attr("stroke-dasharray", prefDash);
    }

    var area = d3.area()
      .x(function(d, i) { return x(steps[i]); })
      .y0(function(d, i) { return y(d - sd[i]); })
      .y1(function(d, i) { return y(d + sd[i]); });
    plot.append("path").datum(mean).attr("d", area)
      .attr("fill", color).attr("fill-opacity", 0.15).attr("stroke", "none");

    var line = d3.line()
      .x(function(d, i) { return x(steps[i]); })
      .y(function(d) { return y(d); });
    plot.append("path").datum(mean).attr("d", line)
      .attr("fill", "none").attr("stroke", color).attr("stroke-width", 2.2)
      .attr("stroke-linejoin", "round");

    mean.forEach(function(d, i) {
      if (i % markEvery == 0) drawMarker(plot, methodMarkers[m], color, x(steps[i]), y(d));
    });
  });

  // axes
  var yAxis = d3.axisLeft(y).tickValues(yTickValues[k])
    .tickFormat(d3.format(yTickFormats[k])).tickSize(5).tickPadding(6);
  var ya = g.append("g").attr("transform", "translate(" + colLeft[c] + ",0)").call(yAxis);
  var xAxis = d3.axisBottom(x).tickValues(xTickValues).tickSize(5).tickPadding(9)
    .tickFormat(r == 2 ? d3.format(".1f") : function() { return ""; });
  var xa = g.append("g").attr("transform", "translate(0," + rowBottom[r] + ")").call(xAxis);
  [ya, xa].forEach(function(a) {
    a.select(".domain").remove();
    a.selectAll(".tick line").attr("stroke", "#333");
    a.selectAll(".tick text").attr("fill", "#111").style("font-size", "11px")
      .style("font-family", "DejaVu Sans, sans-serif");
  });

  // spines
  g.append("rect").attr("x", colLeft[c]).attr("y", rowTop[r])
    .attr("width", colRight[c] - colLeft[c]).attr("height", rowBottom[r] - rowTop[r])
    .attr("fill", "none").attr("stroke", "#333").attr("stroke-width", 1.1);

  var cx = (colLeft[c] + colRight[c]) / 2;
  if (r == 0) {
    g.append("text").attr("x", cx).attr("y", 67.5).attr("text-anchor", "middle")
      .style("font-size", "16px").style("font-weight", "bold").text(envTitles[c]);
  }
  if (c == 0) {
    var lx = [22.3, 22.7, 24][r];
    g.append("text")
      .attr("transform", "translate(" + lx + "," + ((rowTop[r] + rowBottom[r]) / 2) + ") rotate(-90)")
      .attr("text-anchor", "middle").style("font-size", "14.5px").style("font-weight", "bold")
      .text(metricLabels[r]);
  }
  if (r == 2) {
    var xl = g.append("text").attr("x", cx).attr("y", 675).attr("text-anchor", "middle")
      .style("font-size", "14.5px");
    xl.append("tspan").text("training steps (×10");
    xl.append("tspan").attr("dy", -6).style("font-size", "10px").text("6");
    xl.append("tspan").attr("dy", 6).text(")");
  }
});

// ---- legend ----
var legend = svg.append("g");
var box = legend.append("rect").attr("y", 4.7).attr("height", 29.3).attr("rx", 3)
  .attr("fill", "#fff").attr("stroke", "#cccccc").attr("stroke-width", 1);
var cursor = 63, ly = 19.5;
methods.forEach(function(name, m) {
  var item = legend.append("g");
  var hl = item.append("line").attr("x1", cursor).attr("x2", cursor + 35)
    .attr("y1", ly).attr("y2", ly).attr("stroke", methodColors[m]);
  if (m == 4) hl.attr("stroke-width", 2.6).attr("stroke-dasharray", prefDash);
  else {
    hl.attr("stroke-width", 2.2);
    drawMarker(item, methodMarkers[m], methodColors[m], cursor + 17.5, ly);
  }
  var t = item.append("text").attr("x", cursor + 49).attr("y", ly + 5.6)
    .style("font-size", "15.5px").text(name);
  cursor += 49 + t.node().getComputedTextLength() + 32;
});
box.attr("x", 57.7).attr("width", cursor - 32 + 6 - 57.7);

</script>
</body>
</html>
